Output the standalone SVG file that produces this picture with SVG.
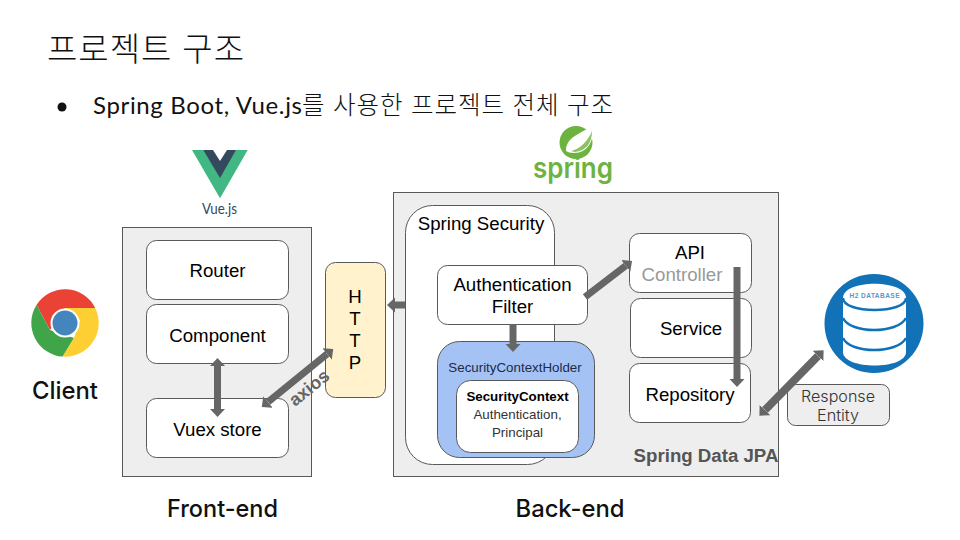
<svg xmlns="http://www.w3.org/2000/svg" width="960" height="540" viewBox="0 0 960 540">
<style>
.box{fill:#fff;stroke:#595959;stroke-width:1}
.panel{fill:#eee;stroke:#595959;stroke-width:1}
.t{font-family:"Liberation Sans",Arial,sans-serif;font-size:18.67px;fill:#000;text-anchor:middle}
.s{font-size:13.33px}
.head{font-family:Inter,Lato,sans-serif;font-size:24px;font-weight:500;fill:#111;text-anchor:middle}
.ko{font-family:Lato,"Noto Sans CJK KR",sans-serif;font-weight:300;fill:#111}
.re{font-family:Inter,Lato,sans-serif;font-size:16px;font-weight:300;fill:#333;text-anchor:middle}
.arrow{fill:none;stroke:#666;stroke-width:7}
</style>
<defs>
<marker id="ah" markerUnits="userSpaceOnUse" markerWidth="9" markerHeight="16" refX="0" refY="7.5" viewBox="0 0 9 16" orient="auto-start-reverse"><path d="M0 0L8 7.500L0 15z" fill="#666"/></marker>
</defs>
<rect width="960" height="540" fill="#fff"/>
<g id="title">
<text class="ko" x="47" y="61" font-size="33" textLength="197" lengthAdjust="spacing">프로젝트 구조</text>
<circle cx="62" cy="107" r="4.500" fill="#111"/>
<text class="ko" y="114" font-size="24.500"><tspan x="93" font-size="24" font-weight="400" textLength="209" lengthAdjust="spacing">Spring Boot, Vue.js</tspan><tspan x="302" textLength="311" lengthAdjust="spacing">를 사용한 프로젝트 전체 구조</tspan></text>
</g>
<g id="client">
<path d="M95.200 308A33.700 33.700 0 0 0 36.500 305L50 330L65 308z" fill="#ea4335"/>
<path d="M36.500 305A33.700 33.700 0 0 0 62.700 356.600L74 338L50 330z" fill="#3fa548"/>
<path d="M95.200 308A33.700 33.700 0 0 1 62.700 356.600L74 338L80 320L65 308z" fill="#fdcf32"/>
<circle cx="65" cy="323" r="14.500" fill="#fff"/>
<circle cx="65" cy="323" r="12.500" fill="#4485bd"/>
<text class="head" x="65" y="399" textLength="66" lengthAdjust="spacingAndGlyphs">Client</text>
</g>
<g id="vue-logo">
<path d="M192 150H247.700L220 198.300z" fill="#41b883"/>
<path d="M203.300 150H236L220 178z" fill="#35495e"/>
<path d="M213 150H227L220 161z" fill="#fff"/>
<text x="219.500" y="214" font-family="Lato,sans-serif" font-size="16" fill="#35495e" text-anchor="middle" textLength="35" lengthAdjust="spacingAndGlyphs">Vue.js</text>
</g>
<g id="spring-logo">
<circle cx="576" cy="142.500" r="16.500" fill="#6db33f"/>
<path d="M566 151C566 137 580 134 592 126C595 140 588 153 574 153C570 153 568 152 566 151z" fill="#fff"/>
<path d="M571 151C580 149 588 141 592 131C592 143 586 151 575 152z" fill="#8cc265"/>
<text x="573" y="177.500" font-family="Inter,Lato,sans-serif" font-size="29" font-weight="600" fill="#6db33f" text-anchor="middle" textLength="80" lengthAdjust="spacingAndGlyphs">spring</text>
</g>
<g id="front-end">
<rect class="panel" x="122.500" y="227.500" width="189" height="249"/>
<text class="head" x="222.500" y="517" textLength="111" lengthAdjust="spacingAndGlyphs">Front-end</text>
</g>
<g id="router"><rect class="box" x="146.500" y="240.500" width="142" height="59" rx="10"/><text class="t" x="217.500" y="277">Router</text></g>
<g id="component"><rect class="box" x="146.500" y="304.500" width="142" height="59" rx="10"/><text class="t" x="217.500" y="342">Component</text></g>
<g id="vuex-store"><rect class="box" x="146.500" y="398.500" width="142" height="59" rx="10"/><text class="t" x="217.500" y="436">Vuex store</text></g>
<g id="http"><rect x="325.500" y="262.500" width="60" height="135" rx="10" fill="#fff2cc" stroke="#595959"/>
<text class="t" x="355" y="303">H</text><text class="t" x="355" y="325">T</text><text class="t" x="355" y="347">T</text><text class="t" x="355" y="369">P</text></g>
<g id="back-end">
<rect class="panel" x="393.500" y="192.500" width="385" height="284"/>
<text class="head" x="570" y="517" textLength="109" lengthAdjust="spacingAndGlyphs">Back-end</text>
</g>
<g id="spring-security"><rect class="box" x="405.500" y="205.500" width="149" height="259" rx="27"/><text class="t" x="481" y="230">Spring Security</text></g>
<g id="authentication-filter"><rect class="box" x="437.500" y="265.500" width="150" height="59" rx="10"/><text class="t" x="512.500" y="291">Authentication</text><text class="t" x="512.500" y="313">Filter</text></g>
<g id="security-context-holder"><rect x="437.500" y="341.500" width="157" height="116" rx="22" fill="#a4c2f4" stroke="#595959"/><text class="t s" x="515" y="372" style="fill:#1c2b4a">SecurityContextHolder</text></g>
<g id="security-context"><rect class="box" x="456.500" y="380.500" width="122" height="72" rx="14"/><text class="t s" x="517.500" y="401" font-weight="700">SecurityContext</text><text class="t s" x="517.500" y="419" style="fill:#333">Authentication,</text><text class="t s" x="517.500" y="437" style="fill:#333">Principal</text></g>
<g id="api-controller"><rect class="box" x="629.500" y="233.500" width="122" height="59" rx="10"/><text class="t" x="690" y="259">API</text><text class="t" x="682" y="281" style="fill:#999">Controller</text></g>
<g id="service"><rect class="box" x="630.500" y="298.500" width="121" height="59" rx="10"/><text class="t" x="691" y="335">Service</text></g>
<g id="repository"><rect class="box" x="629.500" y="363.500" width="121" height="59" rx="10"/><text class="t" x="690" y="401">Repository</text></g>
<g id="spring-data-jpa"><text class="t" x="706" y="462" font-weight="700" style="fill:#555">Spring Data JPA</text></g>
<g id="h2-database">
<circle cx="874" cy="323.500" r="49.500" fill="#1272b8"/>
<path d="M843 298C843 279 906 279 906 298V352C906 370 843 370 843 352z" fill="#fff"/>
<path d="M843 298C843 314 906 314 906 298M843 318C850 334 898 334 906 318M843 338C850 354 898 354 906 338" fill="none" stroke="#1272b8" stroke-width="2.500"/>
<text x="874.500" y="298" font-family="Liberation Sans,sans-serif" font-size="6.500" font-weight="700" fill="#5a96c8" text-anchor="middle" textLength="50">H2 DATABASE</text>
</g>
<g id="response-entity"><rect x="787.500" y="384.500" width="102" height="41" rx="8" fill="#eee" stroke="#595959"/>
<text class="re" x="838" y="402" textLength="74" lengthAdjust="spacingAndGlyphs">Response</text><text class="re" x="838" y="421" textLength="42" lengthAdjust="spacingAndGlyphs">Entity</text></g>
<g id="connectors">
<line class="arrow" x1="217.500" y1="366" x2="217.500" y2="409" marker-start="url(#ah)" marker-end="url(#ah)"/>
<line class="arrow" x1="268" y1="402" x2="327" y2="354" marker-start="url(#ah)" marker-end="url(#ah)"/>
<line class="arrow" x1="405" y1="305" x2="395" y2="305" marker-end="url(#ah)"/>
<line class="arrow" x1="585" y1="297" x2="625.700" y2="265.800" marker-end="url(#ah)"/>
<line class="arrow" x1="513" y1="324" x2="513" y2="344" marker-end="url(#ah)"/>
<line class="arrow" x1="737" y1="267" x2="737" y2="379" marker-end="url(#ah)"/>
<line class="arrow" x1="765" y1="410" x2="818" y2="356" style="stroke-width:8" marker-start="url(#ah)" marker-end="url(#ah)"/>
</g>
<text transform="translate(295 407) rotate(-39)" font-family="Liberation Sans,sans-serif" font-size="18" font-weight="700" fill="#666">axios</text>
</svg>
